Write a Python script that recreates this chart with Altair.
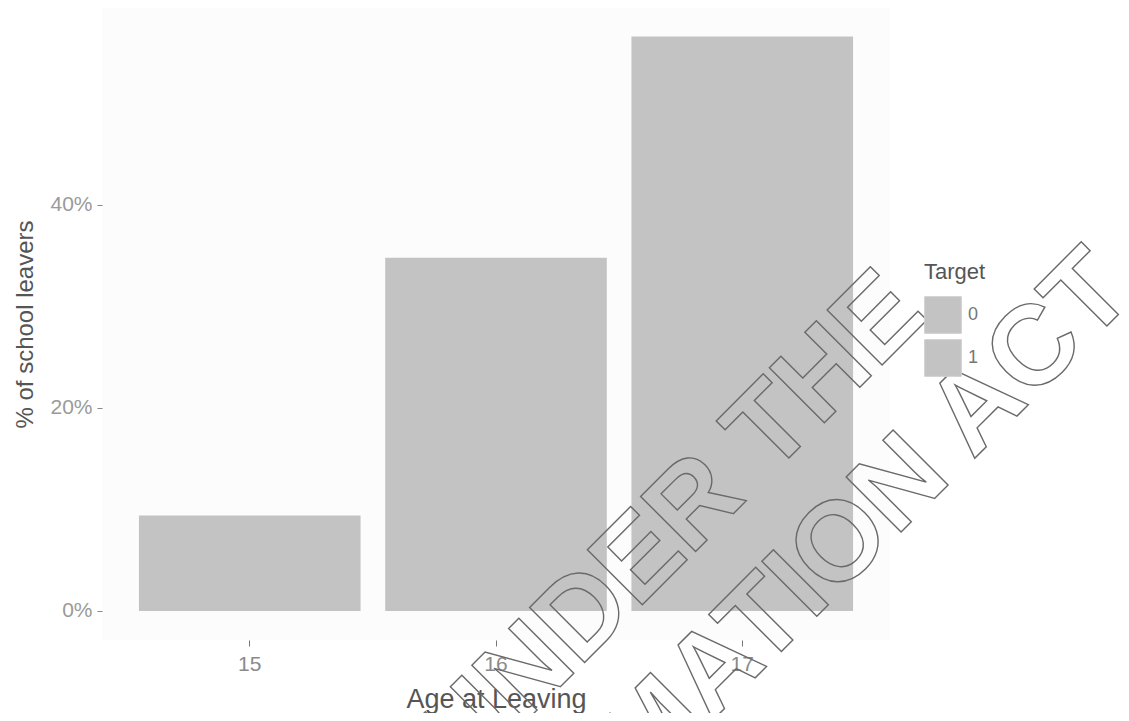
import altair as alt
import pandas as pd

ages = ["15", "16", "17"]
pct = [9.4, 34.8, 56.6]
bar_target = ["0", "0", "0"]
targets = ["0", "1"]
y_ticks = [0, 20, 40]
wm_lines = ["RELEASED UNDER THE", "OFFICIAL INFORMATION ACT"]

df = pd.DataFrame({"age": ages, "pct": pct, "Target": bar_target})

FONT = "Liberation Sans"
GREY = "#c3c3c3"

bars = alt.Chart(df).mark_bar(color=GREY).encode(
    x=alt.X("age:N", title="Age at Leaving",
            scale=alt.Scale(domain=ages, paddingInner=0.1, paddingOuter=0.15),
            axis=alt.Axis(labelAngle=0, domain=False, tickColor="#777", tickSize=6,
                          labelColor="#8a8a8a", labelFontSize=21, labelPadding=7,
                          titleColor="#555", titleFontSize=27, titleFontWeight="normal",
                          titlePadding=12, labelFont=FONT, titleFont=FONT, grid=False)),
    y=alt.Y("pct:Q", title="% of school leavers",
            scale=alt.Scale(domain=[-2.86, 59.4], nice=False, zero=False),
            axis=alt.Axis(values=y_ticks, labelExpr="datum.value + '%'", domain=False,
                          tickColor="#888", tickSize=5, labelColor="#9a9a9a",
                          labelFontSize=21, labelPadding=5, titleColor="#555",
                          titleFontSize=24, titleFontWeight="normal", titlePadding=12,
                          labelFont=FONT, titleFont=FONT, grid=False)),
    y2=alt.datum(0),
    color=alt.Color("Target:N",
                    scale=alt.Scale(domain=targets, range=[GREY, GREY]),
                    legend=alt.Legend(orient="none", legendX=822, legendY=254,
                                      symbolType="square", symbolSize=1350,
                                      symbolStrokeColor="#d0d0d0", symbolStrokeWidth=1,
                                      symbolOpacity=1, rowPadding=1,
                                      titleFontSize=22, titleFontWeight="normal",
                                      titleColor="#555", titleFont=FONT, titlePadding=12,
                                      labelFontSize=18, labelColor="#777", labelFont=FONT,
                                      labelOffset=6)),
)

wm_df = pd.DataFrame({"txt": wm_lines, "idx": [0, 1]})
wm_style = dict(font=FONT, fontSize=113, fontWeight="bold", angle=315, align="right",
                baseline="alphabetic", fillOpacity=0, stroke="#6a6a6a", strokeWidth=1.4)
wm1 = alt.Chart(wm_df).transform_filter("datum.idx == 0").mark_text(**wm_style).encode(
    text="txt:N", x=alt.value(828), y=alt.value(309))
wm2 = alt.Chart(wm_df).transform_filter("datum.idx == 1").mark_text(**wm_style).encode(
    text="txt:N", x=alt.value(1035), y=alt.value(288))

chart = alt.layer(bars, wm1, wm2).properties(
    width=788, height=632,
    background="white",
    autosize=alt.AutoSizeParams(type="none"),
    padding={"left": 94, "top": 0, "right": 231, "bottom": 73},
).configure_view(fill="#fcfcfc", stroke="transparent", strokeWidth=0)

chart.save("out.html", embed_options={"renderer": "svg", "actions": False})
